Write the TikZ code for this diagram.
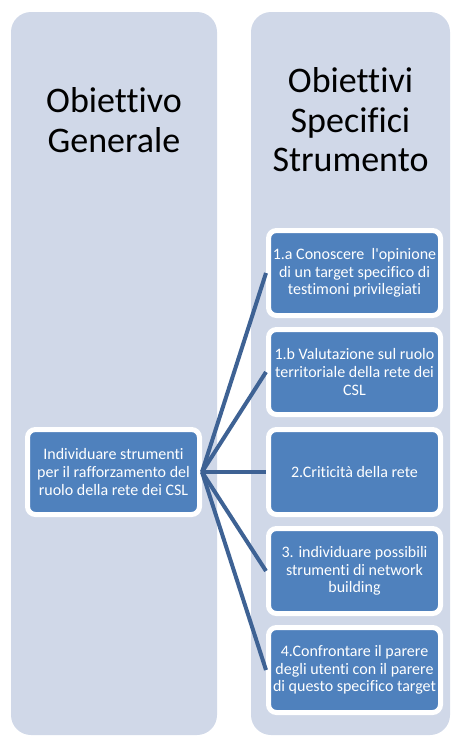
\documentclass[tikz,border=0pt]{standalone}
\usepackage{fontspec}
\setmainfont{Carlito}[Ligatures={TeXOff,NoCommon}]
\definecolor{panel}{RGB}{208,216,232}
\definecolor{boxblue}{RGB}{79,129,189}
\definecolor{linkblue}{RGB}{62,98,148}
\tikzset{
  panelbox/.style={fill=panel, rounded corners=20pt},
  header/.style={align=center, font=\fontsize{36}{39.5}\selectfont, text=black},
  itembox/.style={rectangle, fill=boxblue, draw=white, line width=5pt, rounded corners=8pt,
    minimum width=172pt, minimum height=85pt, align=center, text=white,
    font=\fontsize{16}{17.6}\selectfont, inner sep=1pt},
  link/.style={draw=linkblue, line width=4pt}
}
\begin{document}
\begin{tikzpicture}[x=1pt,y=-1pt]
\useasboundingbox (0,0) rectangle (451,736);
\path[panelbox] (11,12) rectangle (217,735);
\path[panelbox] (251,12) rectangle (450,735);
\node[header] (h1) at (114,120) {Obiettivo\\Generale};
\node[header] (h2) at (350.5,120) {Obiettivi\\Specifici\\Strumento};
\node[itembox] (c) at (113.5,472) {Individuare strumenti\\per il rafforzamento del\\ruolo della rete dei CSL};
\node[itembox] (b1) at (354.5,273) {1.a Conoscere\ \ l'opinione\\di un target specifico di\\testimoni privilegiati};
\node[itembox] (b2) at (354.5,372) {1.b Valutazione sul ruolo\\territoriale della rete dei\\CSL};
\node[itembox] (b3) at (354.5,472) {2.Criticità della rete};
\node[itembox] (b4) at (354.5,571) {3. individuare possibili\\strumenti di network\\building};
\node[itembox] (b5) at (354.5,670) {4.Confrontare il parere\\degli utenti con il parere\\di questo specifico target};
\foreach \b in {b1,b2,b3,b4,b5}
  \draw[link] (c.east) -- (\b.west);
\end{tikzpicture}
\end{document}
